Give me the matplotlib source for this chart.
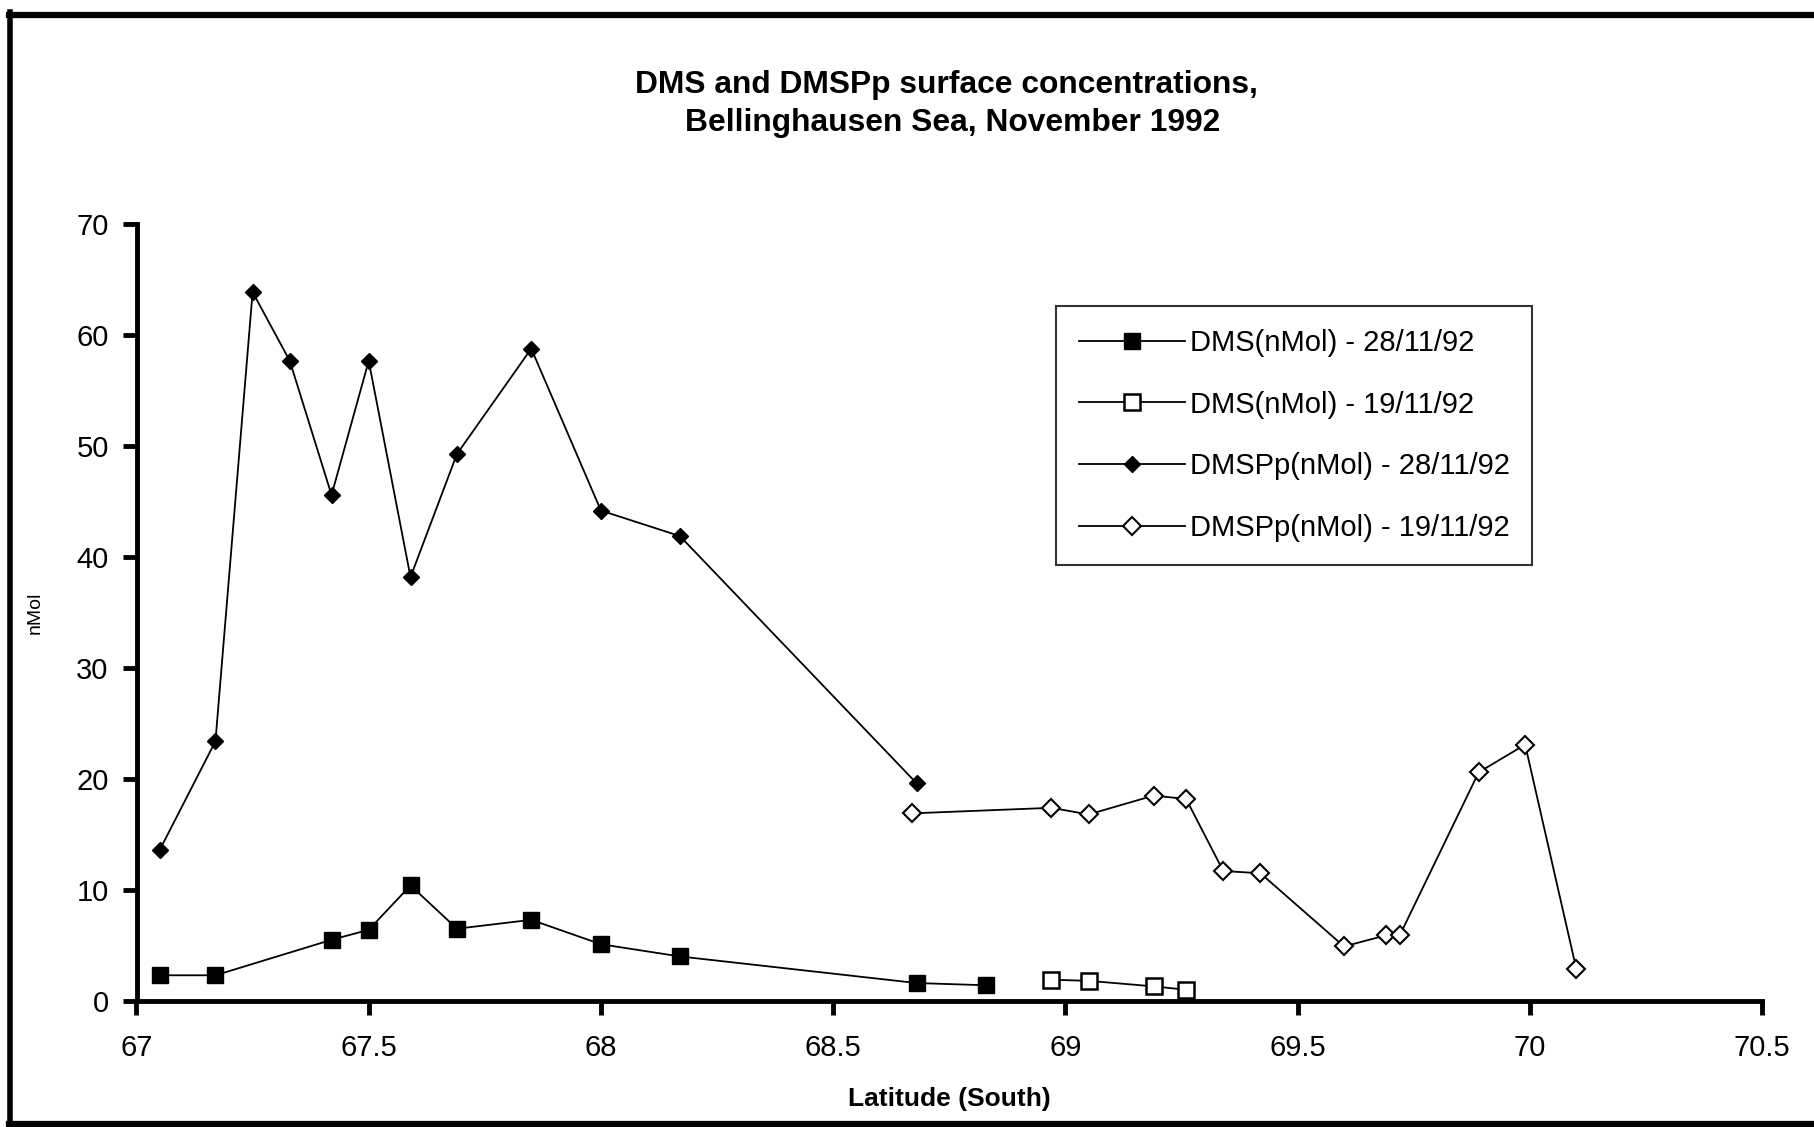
import matplotlib
matplotlib.use("Agg")
import matplotlib.pyplot as plt
from matplotlib.lines import Line2D

plt.rcParams['font.family'] = ['Liberation Sans', 'DejaVu Sans']

# DMS, 28/11/92
dms_28_lat = [67.05, 67.17, 67.42, 67.50, 67.59, 67.69, 67.85, 68.00, 68.17, 68.68, 68.83]
dms_28_val = [2.3, 2.3, 5.5, 6.4, 10.4, 6.5, 7.3, 5.1, 4.0, 1.6, 1.4]

# DMS, 19/11/92
dms_19_lat = [68.97, 69.05, 69.19, 69.26]
dms_19_val = [1.9, 1.8, 1.3, 1.0]

# DMSPp, 28/11/92
dmsp_28_lat = [67.05, 67.17, 67.25, 67.33, 67.42, 67.50, 67.59, 67.69, 67.85, 68.00, 68.17, 68.68]
dmsp_28_val = [13.6, 23.4, 63.9, 57.7, 45.6, 57.7, 38.2, 49.3, 58.8, 44.2, 41.9, 19.6]

# DMSPp, 19/11/92
dmsp_19_lat = [68.67, 68.97, 69.05, 69.19, 69.26, 69.34, 69.42, 69.60, 69.69, 69.72, 69.89, 69.99, 70.10]
dmsp_19_val = [16.9, 17.4, 16.8, 18.5, 18.2, 11.7, 11.5, 4.9, 5.9, 5.9, 20.6, 23.1, 2.9]

labels = ["DMS(nMol) - 28/11/92", "DMS(nMol) - 19/11/92",
          "DMSPp(nMol) - 28/11/92", "DMSPp(nMol) - 19/11/92"]

x_ticks = [67, 67.5, 68, 68.5, 69, 69.5, 70, 70.5]
x_tick_labels = ["67", "67.5", "68", "68.5", "69", "69.5", "70", "70.5"]
y_ticks = [0, 10, 20, 30, 40, 50, 60, 70]

W, H = 1814, 1127
fig = plt.figure(figsize=(W / 100, H / 100), dpi=100)
fig.patch.set_facecolor("white")

ax = fig.add_axes([136.5 / W, 1 - 1000.8 / H, (1762 - 136.5) / W, (1000.8 - 224.4) / H])

lw = 1.3
ax.plot(dms_28_lat, dms_28_val, color="black", lw=lw, marker="s", ms=11,
        mfc="black", mec="black", label=labels[0], clip_on=False)
ax.plot(dms_19_lat, dms_19_val, color="black", lw=lw, marker="s", ms=11,
        mfc="white", mec="black", mew=1.8, label=labels[1], clip_on=False)
ax.plot(dmsp_28_lat, dmsp_28_val, color="black", lw=lw, marker="D", ms=8,
        mfc="black", mec="black", label=labels[2], clip_on=False)
ax.plot(dmsp_19_lat, dmsp_19_val, color="black", lw=lw, marker="D", ms=9,
        mfc="white", mec="black", mew=1.5, label=labels[3], clip_on=False)

ax.set_xlim(67, 70.5)
ax.set_ylim(0, 70)
ax.set_xticks(x_ticks)
ax.set_xticklabels(x_tick_labels)
ax.set_yticks(y_ticks)

for side in ("top", "right"):
    ax.spines[side].set_visible(False)
for side in ("left", "bottom"):
    ax.spines[side].set_linewidth(3.5)
ax.tick_params(axis="both", direction="out", length=10, width=3.5,
               labelsize=21, pad=10)
ax.tick_params(axis="x", pad=14)

ax.set_xlabel("Latitude (South)", fontsize=19, fontweight="bold", labelpad=18)
ax.set_ylabel("nMol", fontsize=14)
ax.yaxis.set_label_coords(-0.057, 0.5)

fig.text(0.522, 1 - 85 / H, "DMS and DMSPp surface concentrations,",
         ha="center", va="center", fontsize=22.9, fontweight="bold")
fig.text(0.525, 1 - 123 / H, "Bellinghausen Sea, November 1992",
         ha="center", va="center", fontsize=22.9, fontweight="bold")

leg = ax.legend(loc="upper left", bbox_to_anchor=((1056 - 136.5) / (1762 - 136.5),
                (1000.8 - 306) / (1000.8 - 224.4)),
                fontsize=21, frameon=True, fancybox=False, edgecolor="black",
                handlelength=3.65, handletextpad=0.15, labelspacing=1.16,
                borderpad=0.78, borderaxespad=0)
leg.get_frame().set_linewidth(1.5)

# outer frame around the figure (top, left, bottom)
fig.add_artist(Line2D([9 / W, 1.0], [1 - 14.5 / H, 1 - 14.5 / H], color="black", lw=4.5))
fig.add_artist(Line2D([9.5 / W, 9.5 / W], [1 - 12 / H, 1 - 1125 / H], color="black", lw=4.0))
fig.add_artist(Line2D([9 / W, 1.0], [1 - 1124 / H, 1 - 1124 / H], color="black", lw=4.5))

fig.savefig("out.png", dpi=100, facecolor="white")
